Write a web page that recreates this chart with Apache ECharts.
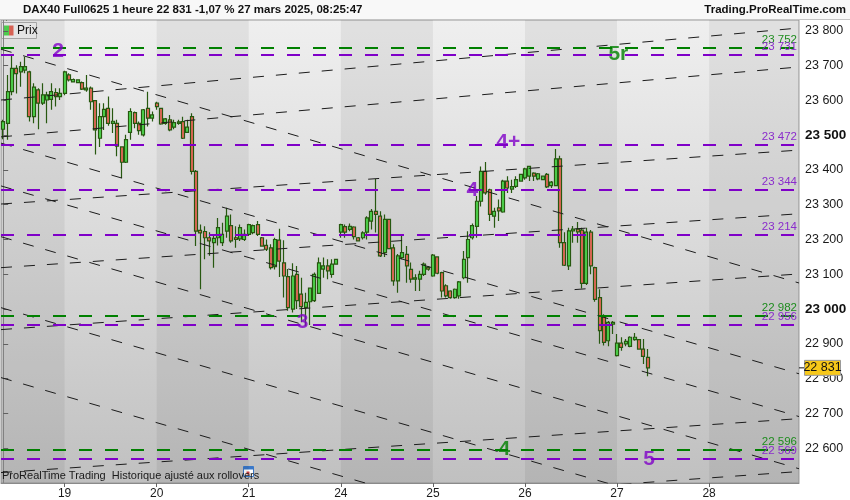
<!DOCTYPE html>
<html><head><meta charset="utf-8">
<script src="https://cdn.jsdelivr.net/npm/echarts/dist/echarts.min.js"></script>
<style>html,body{margin:0;padding:0;background:#fff}#c{width:850px;height:500px}</style>
</head><body><div id="c"></div>
<script>
// ---- data ----
const opens =[23517,23534,23625,23692,23682,23687,23682,23553,23630,23592,23601,23603,23622,23611,23620,23673,23653,23651,23651,23630,23635,23599,23491,23553,23577,23534,23534,23466,23422,23508,23565,23534,23501,23577,23549,23592,23577,23534,23544,23523,23534,23539,23508,23553,23396,23226,23223,23205,23191,23205,23191,23224,23240,23205,23202,23200,23215,23220,23243,23205,23183,23176,23122,23198,23133,23093,23000,23100,23043,23005,23021,23024,23045,23115,23124,23100,23129,23221,23237,23229,23236,23205,23205,23221,23253,23281,23267,23162,23258,23176,23081,23148,23157,23114,23086,23086,23100,23120,23095,23150,23105,23067,23052,23033,23038,23090,23148,23205,23238,23310,23396,23343,23267,23291,23279,23368,23345,23353,23368,23377,23382,23391,23374,23372,23387,23355,23355,23432,23191,23124,23225,23230,23227,23074,23221,23119,23033,22981,22909,22957,22866,22902,22900,22893,22912,22912,22885,22861];
const closes=[23539,23625,23692,23677,23697,23697,23553,23638,23592,23616,23616,23625,23611,23620,23682,23659,23660,23659,23632,23635,23596,23515,23553,23574,23534,23540,23468,23422,23487,23568,23534,23513,23573,23549,23558,23582,23532,23547,23515,23536,23538,23491,23523,23396,23224,23219,23205,23196,23203,23234,23215,23267,23196,23200,23234,23215,23243,23240,23215,23181,23172,23119,23200,23138,23095,23004,23095,23024,23007,23019,23060,23100,23133,23124,23110,23129,23143,23243,23221,23238,23208,23196,23219,23262,23281,23272,23153,23258,23174,23081,23153,23162,23124,23086,23090,23100,23129,23115,23155,23103,23052,23038,23033,23057,23078,23143,23200,23240,23310,23396,23334,23272,23281,23282,23368,23348,23352,23372,23387,23403,23410,23382,23389,23382,23351,23365,23432,23191,23126,23225,23230,23222,23074,23221,23124,23028,22938,22904,22962,22962,22902,22890,22907,22919,22919,22885,22864,22831];
const lows  =[23488,23487,23615,23620,23639,23678,23539,23534,23517,23587,23534,23573,23582,23601,23615,23654,23651,23649,23630,23625,23573,23444,23466,23515,23527,23506,23439,23377,23420,23487,23520,23501,23496,23525,23539,23573,23530,23530,23511,23517,23530,23489,23506,23387,23181,23057,23143,23153,23119,23183,23181,23205,23191,23176,23196,23196,23210,23215,23210,23181,23167,23114,23114,23092,23033,22995,22990,23000,22962,22952,22954,23020,23043,23090,23086,23090,23128,23205,23205,23224,23200,23194,23200,23200,23229,23220,23150,23150,23172,23067,23047,23143,23076,23076,23052,23052,23095,23110,23093,23100,23033,23033,23030,23030,23030,23086,23076,23200,23205,23295,23329,23253,23234,23253,23277,23334,23334,23348,23368,23372,23368,23368,23370,23372,23348,23348,23353,23176,23124,23112,23191,23191,23059,23069,23100,23021,22900,22895,22893,22928,22864,22880,22893,22890,22909,22883,22842,22807];
const highs =[23544,23673,23730,23701,23711,23725,23685,23649,23635,23649,23625,23649,23635,23635,23685,23678,23663,23661,23654,23673,23640,23601,23592,23592,23611,23577,23544,23468,23501,23577,23568,23539,23575,23625,23568,23596,23579,23549,23558,23544,23544,23553,23544,23563,23400,23243,23238,23221,23210,23262,23248,23291,23272,23238,23243,23229,23245,23243,23253,23207,23200,23186,23205,23231,23198,23115,23132,23124,23090,23047,23062,23105,23148,23148,23143,23143,23145,23245,23243,23246,23238,23207,23224,23267,23288,23374,23281,23272,23260,23186,23158,23215,23181,23134,23100,23110,23134,23124,23158,23152,23107,23071,23054,23059,23081,23167,23224,23246,23325,23410,23423,23346,23291,23315,23372,23382,23372,23382,23389,23406,23412,23393,23391,23384,23391,23368,23460,23441,23221,23234,23239,23250,23234,23234,23227,23122,23057,22985,22966,22966,22928,22919,22914,22922,22931,22914,22914,22885];
const slotCount = 182;
const dayStartIdx = [14,35,56,77,98,119,140,161];
const dayLabels = ['19','20','21','24','25','26','27','28'];
const levelValues = [23752,23731,23472,23344,23214,22982,22956,22596,22569];
const levelKinds  = ['g','p','p','p','p','g','p','g','p'];
const descLineStart = [23747,23477,23354,23208,23004,22803];
const descLineEnd   = [23075,22814,22691,22541,22340,22139];
const ascLineStart  = [23601,23495,23302,23119,22941,22530,22369];
const ascLineEnd    = [23808,23696,23457,23274,23101,22685,22533];
const annoTexts = ['2','5r','4+','4','3','4','5'];
const annoX     = [12.5,140.3,115.2,107.0,68.3,114.3,147.3];
const annoPrice = [23740,23733,23480,23343,22963,22596,22567];
const annoKinds = ['p','g','p','p','p','g','p'];
const yMin = 22500, yMax = 23831, yStep = 100;

// ---- styles ----
const FONT = '"Liberation Sans", Arial, sans-serif';
const PURPLE = '#7f00c8', GREEN = '#008000';
const PURPLE_TXT = '#8a2ccc', GREEN_TXT = '#1e8c1e';
const fmt = v => Math.round(v).toString().replace(/\B(?=(\d{3})+(?!\d))/g, ' ');

const chart = echarts.init(document.getElementById('c'), null, {renderer:'canvas'});
const cats = Array.from({length: slotCount}, (_, i) => String(i));
const candleData = opens.map((o, i) => [o, closes[i], lows[i], highs[i]]);
const xEnd = slotCount - 0.5;

const edges = [-0.5, ...dayStartIdx, xEnd];
const bands = [];
for (let k = 0; k < edges.length - 1; k += 2) bands.push([{xAxis: edges[k]}, {xAxis: edges[k+1]}]);

const trend = (a, b) => ({
  type:'line', xAxisIndex:1, yAxisIndex:0, data:[[-0.5, a],[xEnd, b]],
  symbol:'none', silent:true, clip:true, z:4, animation:false,
  lineStyle:{color:'#1c1c1c', width:1, type:[11,12]}
});

const series = [
  { type:'line', xAxisIndex:1, yAxisIndex:0, data:[[-0.5, 23000]], symbol:'none', silent:true, z:1,
    lineStyle:{opacity:0}, animation:false,
    markArea:{silent:true, itemStyle:{color:'rgba(0,0,0,0.06)'}, data:bands} },
  { type:'candlestick', xAxisIndex:0, yAxisIndex:0, data:candleData, barWidth:3.5, z:2, animation:false,
    itemStyle:{color:'#4fd84f', color0:'#e8685a', borderColor:'#275810', borderColor0:'#275810', borderWidth:1.2},
    markLine:{ silent:true, symbol:['none','none'], animation:false,
      data: levelValues.map((v, i) => ({
        yAxis: v,
        lineStyle:{color: levelKinds[i]==='g'?GREEN:PURPLE, width:2, type:[13,13]},
        label:{show:true, position:'insideEndTop', distance:2, formatter: fmt(v),
               color: levelKinds[i]==='g'?GREEN_TXT:PURPLE_TXT, fontSize:11.5, fontFamily:FONT}
      })) } },
  ...descLineStart.map((a, i) => trend(a, descLineEnd[i])),
  ...ascLineStart.map((a, i) => trend(a, ascLineEnd[i])),
  { type:'scatter', xAxisIndex:1, yAxisIndex:0, symbolSize:1, silent:true, z:6, animation:false,
    itemStyle:{color:'rgba(0,0,0,0)'},
    data: annoTexts.map((t, i) => ({ value:[annoX[i], annoPrice[i]],
      label:{color: annoKinds[i]==='g'?GREEN:PURPLE} })),
    label:{show:true, position:'inside', formatter: p => annoTexts[p.dataIndex],
      fontSize:21, fontWeight:'bold', fontFamily:FONT} }
];

const option = {
  backgroundColor:'#ffffff',
  animation:false,
  grid:{ left:1, right:51, top:20, bottom:17, show:true, borderColor:'#9a9a9a', borderWidth:1,
    backgroundColor:{type:'linear', x:0, y:0, x2:0, y2:1,
      colorStops:[{offset:0, color:'#efefef'},{offset:0.5, color:'#d9d9d9'},{offset:1, color:'#c0c0c0'}]} },
  xAxis:[
    { type:'category', data:cats, boundaryGap:true,
      axisLine:{show:true, lineStyle:{color:'#8a8a8a'}},
      axisTick:{show:true, alignWithLabel:true, length:4, lineStyle:{color:'#666'},
        interval:(idx) => dayStartIdx.includes(idx)},
      axisLabel:{interval:(idx) => dayStartIdx.includes(idx), margin:5, color:'#1a1a1a', fontSize:12, fontFamily:FONT,
        formatter:(v, idx) => { const k = dayStartIdx.indexOf(idx); return k >= 0 ? dayLabels[k] : ''; }},
      splitLine:{show:false} },
    { type:'value', min:-0.5, max:xEnd, show:false }
  ],
  yAxis:{ type:'value', position:'right', min:yMin, max:yMax, interval:yStep,
    axisLine:{show:true, lineStyle:{color:'#8a8a8a'}},
    axisTick:{show:true, length:5, lineStyle:{color:'#666'}},
    axisLabel:{showMinLabel:false, showMaxLabel:false, margin:6, color:'#1a1a1a', fontSize:12.5, fontFamily:FONT,
      formatter: v => (v % 500 === 0 ? '{b|' + fmt(v) + '}' : fmt(v)),
      rich:{b:{fontWeight:'bold', fontSize:13.5, fontFamily:FONT, color:'#111'}}},
    splitLine:{show:false} },
  series: series,
  graphic:[
    {type:'rect', id:'hdr', left:0, top:0, shape:{width:850, height:19}, style:{fill:'#f8f8f8'}, z:100},
    {type:'line', id:'hdrline', shape:{x1:0, y1:19.5, x2:850, y2:19.5}, style:{stroke:'#c4c4c4', lineWidth:1}, z:101},
    {type:'group', id:'icon', left:4, top:3, z:102, children:[
      {type:'line', shape:{x1:2, y1:5, x2:2, y2:15}, style:{stroke:'#2a5a12', lineWidth:1}},
      {type:'rect', shape:{x:0.5, y:8, width:3, height:5}, style:{fill:'#52d852', stroke:'#2a5a12', lineWidth:0.8}},
      {type:'line', shape:{x1:7, y1:2, x2:7, y2:12}, style:{stroke:'#2a5a12', lineWidth:1}},
      {type:'rect', shape:{x:5.5, y:4, width:3, height:6}, style:{fill:'#52d852', stroke:'#2a5a12', lineWidth:0.8}},
      {type:'line', shape:{x1:12, y1:0, x2:12, y2:8}, style:{stroke:'#2a5a12', lineWidth:1}},
      {type:'rect', shape:{x:10.5, y:1, width:3, height:5}, style:{fill:'#52d852', stroke:'#2a5a12', lineWidth:0.8}}
    ]},
    {type:'text', id:'title', left:23, top:4, z:102,
      style:{text:'DAX40 Full0625 1 heure 22 831 -1,07 % 27 mars 2025, 08:25:47', font:'bold 11.5px ' + FONT, fill:'#111'}},
    {type:'text', id:'brand', right:4, top:4, z:102,
      style:{text:'Trading.ProRealTime.com', font:'bold 11.5px ' + FONT, fill:'#111'}},
    {type:'group', id:'legend', left:1, top:22, z:102, children:[
      {type:'rect', shape:{x:0, y:0, width:35, height:16}, style:{fill:'#f3f3f3', stroke:'#b0b0b0', lineWidth:1}},
      {type:'rect', shape:{x:2.5, y:3, width:5, height:10}, style:{fill:'#52d852'}},
      {type:'rect', shape:{x:7.5, y:3, width:4.5, height:10}, style:{fill:'#e5695a'}},
      {type:'text', style:{x:15.5, y:2, text:'Prix', font:'12px ' + FONT, fill:'#111'}}
    ]},
    {type:'text', id:'footer', left:2, top:470, z:102,
      style:{text:'ProRealTime Trading  Historique ajusté aux rollovers', font:'11px ' + FONT, fill:'#1a1a1a'}},
    {type:'group', id:'cal', left:243, top:466, z:101, children:[
      {type:'rect', shape:{x:0, y:0, width:10, height:10}, style:{fill:'#ffffff', stroke:'#3a78c8', lineWidth:1}},
      {type:'rect', shape:{x:0, y:0, width:10, height:3}, style:{fill:'#3a78c8'}},
      {type:'rect', shape:{x:3, y:5, width:3, height:3}, style:{fill:'#d04040'}}
    ]}
  ]
};
chart.setOption(option);

// last price tag positioned through the y axis scale
const last = closes[closes.length - 1];
const py = chart.convertToPixel({yAxisIndex:0}, last);
chart.setOption({graphic:[
  {type:'line', id:'tagtick', shape:{x1:799, y1:py, x2:805, y2:py}, style:{stroke:'#111', lineWidth:1}, z:103},
  {type:'rect', id:'tagbox', shape:{x:804.5, y:py - 7.5, width:36, height:15}, style:{fill:'#f7c81a', stroke:'#9a9a9a', lineWidth:1}, z:103},
  {type:'text', id:'tagtxt', z:104, style:{x:822.5, y:py, text:fmt(last), font:'12.5px ' + FONT, fill:'#111', align:'center', verticalAlign:'middle'}}
]});
</script></body></html>
